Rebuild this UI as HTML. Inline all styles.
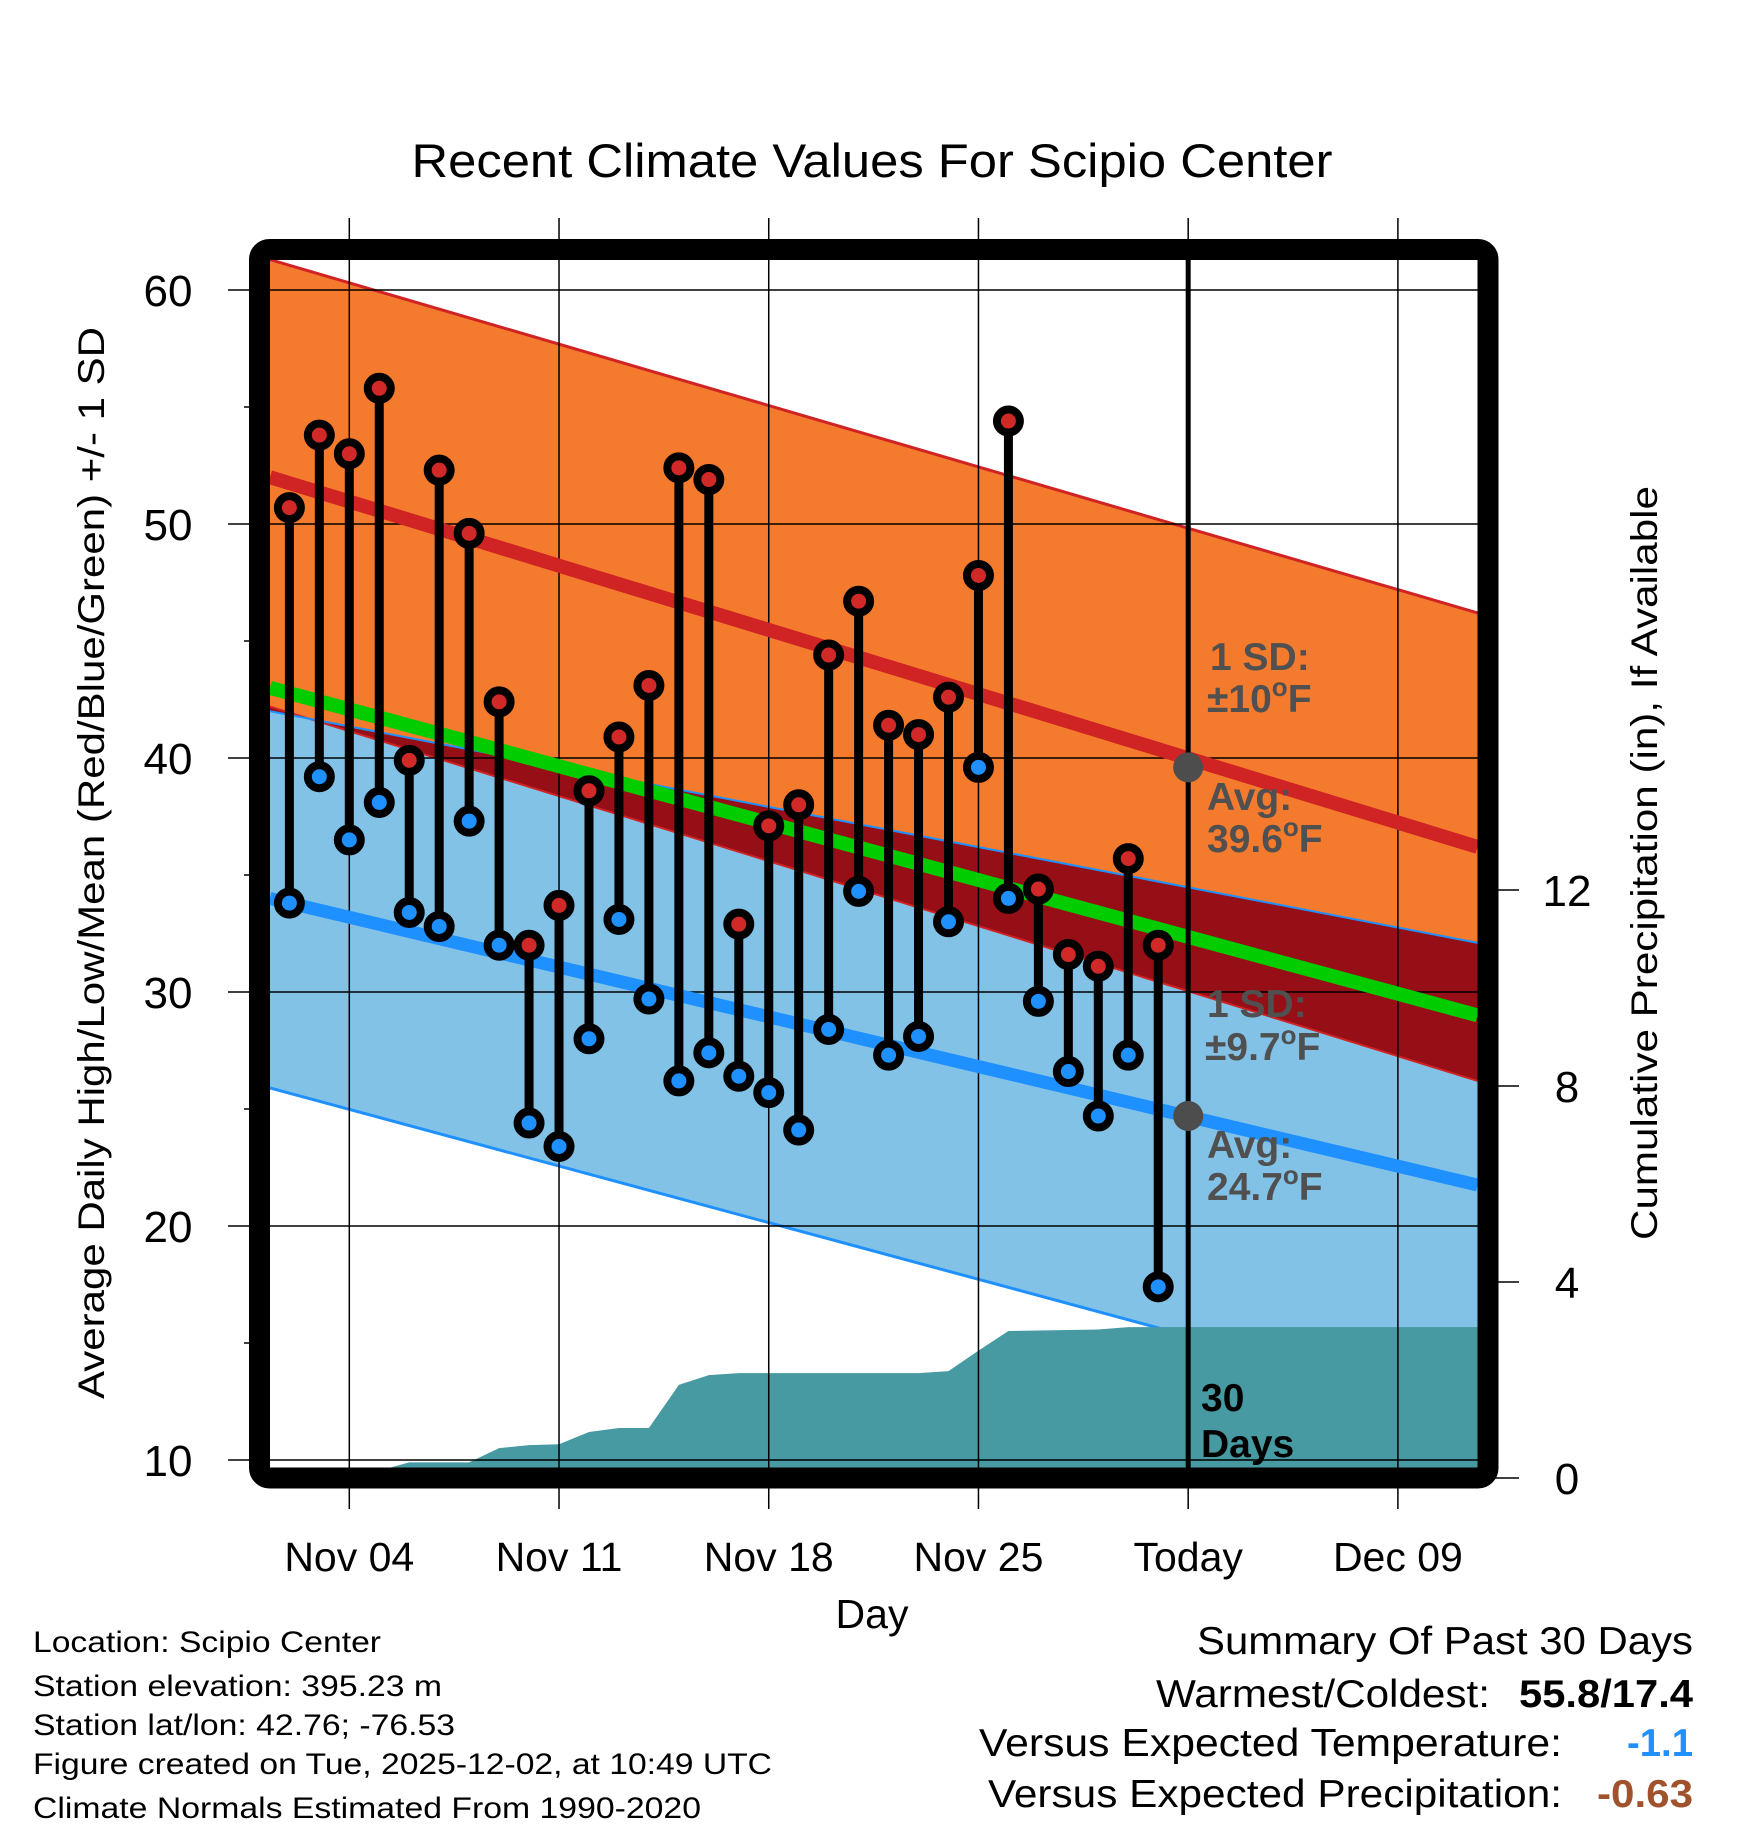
<!DOCTYPE html>
<html><head><meta charset="utf-8"><title>Recent Climate Values For Scipio Center</title>
<style>
html,body{margin:0;padding:0;background:#fff;}
svg{display:block;font-family:"Liberation Sans",Arial,sans-serif;}
</style></head>
<body>
<svg id="chart" width="1748" height="1828" viewBox="0 0 1748 1828" xmlns="http://www.w3.org/2000/svg">
<defs><clipPath id="plotclip"><rect x="270" y="260" width="1208" height="1208"/></clipPath></defs>
<text x="872" y="177" font-size="47" text-anchor="middle" textLength="921" lengthAdjust="spacingAndGlyphs">Recent Climate Values For Scipio Center</text>
<g id="bands" clip-path="url(#plotclip)"></g>
<g id="grid"></g>
<g id="series" clip-path="url(#plotclip)"></g>
<g id="marks"></g>
<g id="annot"></g>
<rect x="259.5" y="249.5" width="1228.5" height="1228.5" rx="10" fill="none" stroke="#000" stroke-width="21"/>
<g id="axes"></g>
<text transform="translate(104,863) rotate(-90)" font-size="37" text-anchor="middle" textLength="1072" lengthAdjust="spacingAndGlyphs">Average Daily High/Low/Mean (Red/Blue/Green) +/- 1 SD</text>
<text transform="translate(1657,863) rotate(-90)" font-size="37" text-anchor="middle" textLength="754" lengthAdjust="spacingAndGlyphs">Cumulative Precipitation (in), If Available</text>
<text x="872" y="1628" font-size="41" text-anchor="middle">Day</text>
<g font-size="30">
<text x="33" y="1652" textLength="348" lengthAdjust="spacingAndGlyphs">Location: Scipio Center</text>
<text x="33" y="1696" textLength="409" lengthAdjust="spacingAndGlyphs">Station elevation: 395.23 m</text>
<text x="33" y="1735" textLength="422" lengthAdjust="spacingAndGlyphs">Station lat/lon: 42.76; -76.53</text>
<text x="33" y="1774" textLength="739" lengthAdjust="spacingAndGlyphs">Figure created on Tue, 2025-12-02, at 10:49 UTC</text>
<text x="33" y="1818" textLength="668" lengthAdjust="spacingAndGlyphs">Climate Normals Estimated From 1990-2020</text>
</g>
<g font-size="39">
<text x="1693" y="1654" text-anchor="end" textLength="496" lengthAdjust="spacingAndGlyphs">Summary Of Past 30 Days</text>
<text x="1490" y="1707" text-anchor="end" textLength="334" lengthAdjust="spacingAndGlyphs">Warmest/Coldest:</text>
<text x="1693" y="1707" text-anchor="end" font-weight="bold" textLength="174" lengthAdjust="spacingAndGlyphs">55.8/17.4</text>
<text x="1562" y="1756" text-anchor="end" textLength="583" lengthAdjust="spacingAndGlyphs">Versus Expected Temperature:</text>
<text x="1693" y="1756" text-anchor="end" font-weight="bold" fill="#1e90ff" textLength="66" lengthAdjust="spacingAndGlyphs">-1.1</text>
<text x="1562" y="1807" text-anchor="end" textLength="574" lengthAdjust="spacingAndGlyphs">Versus Expected Precipitation:</text>
<text x="1693" y="1807" text-anchor="end" font-weight="bold" fill="#a0522d" textLength="96" lengthAdjust="spacingAndGlyphs">-0.63</text>
</g>
</svg>
<script>
// ---- data ----
const dayNums = [2,3,4,5,6,7,8,9,10,11,12,13,14,15,16,17,18,19,20,21,22,23,24,25,26,27,28,29,30,31];
const highs = [50.7,53.8,53.0,55.8,39.9,52.3,49.6,42.4,32.0,33.7,38.6,40.9,43.1,52.4,51.9,32.9,37.1,38.0,44.4,46.7,41.4,41.0,42.6,47.8,54.4,34.4,31.6,31.1,35.7,32.0];
const lows = [33.8,39.2,36.5,38.1,33.4,32.8,37.3,32.0,24.4,23.4,28.0,33.1,29.7,26.2,27.4,26.4,25.7,24.1,28.4,34.3,27.3,28.1,33.0,39.6,34.0,29.6,26.6,24.7,27.3,17.4];
const precip = [0,0,0,0.15,0.32,0.32,0.32,0.61,0.67,0.69,0.94,1.02,1.02,1.9,2.1,2.14,2.14,2.14,2.14,2.14,2.14,2.14,2.18,2.6,3.0,3.01,3.02,3.03,3.08,3.08];
const normDays = [1.35, 41.66];
const normUpperHigh = [61.3, 46.2];
const normAvgHigh = [52.0, 36.2];
const normLowerHigh = [42.2, 26.2];
const normMean = [43.0, 29.0];
const normUpperLow = [42.0, 32.1];
const normAvgLow = [34.0, 21.75];
const normLowerLow = [25.9, 11.96];
const xTickDays = [4,11,18,25,32,39];
const xTickLabels = ["Nov 04","Nov 11","Nov 18","Nov 25","Today","Dec 09"];
const yTicks = [10,20,30,40,50,60];
const y2Ticks = [0,4,8,12];
const todayDay = 32;

// ---- axes ----
const X = d => 349.3 + (d - 4) * 29.96;
const Y = v => 290 + (60 - v) * 23.4;
const YP = p => 1478 - p * 49;
const NS = "http://www.w3.org/2000/svg";
function mk(tag, attrs, parent){ const e=document.createElementNS(NS,tag); for(const k in attrs) e.setAttribute(k,attrs[k]); parent.appendChild(e); return e; }
const bands=document.getElementById('bands'), grid=document.getElementById('grid'), series=document.getElementById('series'), marks=document.getElementById('marks'), annot=document.getElementById('annot'), axes=document.getElementById('axes');
function pts(arr){ return normDays.map((d,i)=>X(d)+","+Y(arr[i])); }
function band(top,bot,fill,name){
  const p = pts(top).concat(pts(bot).reverse()).join(" ");
  const e = mk('polygon',{points:p,fill:fill},bands);
  
  
}
function line(arr,color,w,name,parent){
  const e = mk('polyline',{points:pts(arr).join(" "),fill:"none",stroke:color,"stroke-width":w},parent);
  
  
}
band(normUpperLow, normLowerLow, "#83c2e7", "low-sd-band");
band(normUpperHigh, normLowerHigh, "#f47a2d", "high-sd-band");
band(normUpperLow, normLowerHigh, "#960f16", "overlap-band");
line(normUpperHigh,"#d02323",3,"high-upper-sd-line",bands);
line(normLowerHigh,"#d02323",2,"high-lower-sd-line",bands);
line(normUpperLow,"#1e90ff",2,"low-upper-sd-line",bands);
line(normLowerLow,"#1e90ff",3,"low-lower-sd-line",bands);

// precip area
(function(){
  let p = X(normDays[0])+","+YP(0)+" "+X(normDays[0])+","+YP(precip[0]);
  dayNums.forEach((d,i)=>{ p += " "+X(d)+","+YP(precip[i]); });
  p += " "+X(normDays[1])+","+YP(precip[precip.length-1])+" "+X(normDays[1])+","+YP(0);
  const e = mk('polygon',{points:p,fill:"#4799a2"},bands);
  
  
})();

// grid
xTickDays.forEach((d,i)=>{
  const g = mk('line',{x1:X(d),x2:X(d),y1:218,y2:1509,stroke:"#000","stroke-width":1.5},grid);
  
  
  const t = mk('text',{x:X(d),y:1571,"font-size":41,"text-anchor":"middle"},axes);
  t.textContent = xTickLabels[i];
  
  
});
yTicks.forEach(v=>{
  const g = mk('line',{x1:228,x2:1478,y1:Y(v),y2:Y(v),stroke:"#000","stroke-width":1.5},grid);
  
  
  const t = mk('text',{x:168,y:Y(v)+16,"font-size":44,"text-anchor":"middle"},axes);
  t.textContent = v;
  
  
});
[15,25,35,45,55].forEach(v=>{
  const g = mk('line',{x1:244,x2:260,y1:Y(v),y2:Y(v),stroke:"#000","stroke-width":1.5},axes);
  
  
});
y2Ticks.forEach(p=>{
  const g = mk('line',{x1:1490,x2:1519,y1:YP(p),y2:YP(p),stroke:"#000","stroke-width":1.5},axes);
  
  
  const t = mk('text',{x:1567,y:YP(p)+16,"font-size":44,"text-anchor":"middle"},axes);
  t.textContent = p;
  
  
});

// normal lines
line(normMean,"#00cc00",14,"mean-normal-line",series);
line(normAvgHigh,"#d02323",14,"avg-high-line",series);
line(normAvgLow,"#1e90ff",13,"avg-low-line",series);

// today line
(function(){
  const e = mk('line',{x1:X(todayDay),x2:X(todayDay),y1:255,y2:1470,stroke:"#000","stroke-width":5},series);
  
  
})();

// stems and markers
dayNums.forEach((d,i)=>{
  const s = mk('line',{x1:X(d),x2:X(d),y1:Y(highs[i]),y2:Y(lows[i]),stroke:"#000","stroke-width":9},marks);
  
  
});
dayNums.forEach((d,i)=>{
  const h = mk('circle',{cx:X(d),cy:Y(highs[i]),r:11.5,fill:"#d12828",stroke:"#000","stroke-width":8},marks);
  
  
  const l = mk('circle',{cx:X(d),cy:Y(lows[i]),r:11.5,fill:"#1e90ff",stroke:"#000","stroke-width":8},marks);
  
  
});

// annotations
const avgHighToday = 39.6, avgLowToday = 24.7;
(function(){
  const c1 = mk('circle',{cx:X(todayDay),cy:Y(avgHighToday),r:15,fill:"#4d4d4d"},annot);
  
  
  const c2 = mk('circle',{cx:X(todayDay),cy:Y(avgLowToday),r:15,fill:"#4d4d4d"},annot);
  
  
  function lbl(x,y,txt,deg,color,name){
    const t = mk('text',{x:x,y:y,"font-size":39,"font-weight":"bold",fill:color},annot);
    
    
    if(deg){
      t.appendChild(document.createTextNode(txt));
      const s = mk('tspan',{"font-size":26,dy:-16},t); s.textContent="o";
      const f = mk('tspan',{dy:16},t); f.textContent="F";
    } else t.textContent = txt;
  }
  lbl(1210,670,"1 SD:",false,"#505050","high-sd-label");
  lbl(1207,712,"\u00b110",true,"#505050","high-sd-value");
  lbl(1207,810,"Avg:",false,"#505050","avg-high-label");
  lbl(1207,852,"39.6",true,"#505050","avg-high-value");
  lbl(1207,1017,"1 SD:",false,"#505050","low-sd-label");
  lbl(1205,1060,"\u00b19.7",true,"#505050","low-sd-value");
  lbl(1207,1158,"Avg:",false,"#505050","avg-low-label");
  lbl(1207,1200,"24.7",true,"#505050","avg-low-value");
  lbl(1201,1411,"30",false,"#000","days-count-label");
  lbl(1201,1457,"Days",false,"#000","days-word-label");
})();
</script>
</body></html>
